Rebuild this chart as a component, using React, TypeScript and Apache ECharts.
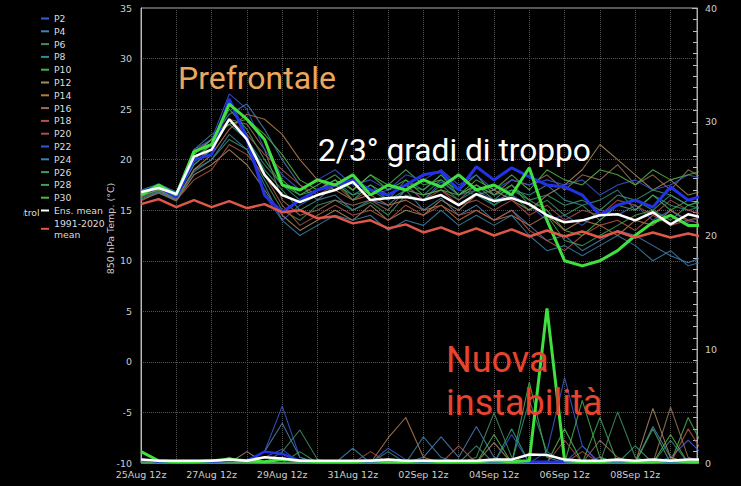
import React, { useEffect, useRef } from "react";
import * as echarts from "echarts";

// forecast hours from 25Aug 12z, every 12 h
const hours = [0, 12, 24, 36, 48, 60, 72, 84, 96, 108, 120, 132, 144, 156, 168, 180, 192, 204, 216, 228, 240, 252, 264, 276, 288, 300, 312, 324, 336, 348, 360, 372, 384];
const xTickHours = [0, 48, 96, 144, 192, 240, 288, 336];
const xTickLabels = ["25Aug 12z", "27Aug 12z", "29Aug 12z", "31Aug 12z", "02Sep 12z", "04Sep 12z", "06Sep 12z", "08Sep 12z"];

const memberNames = ["P2", "P4", "P6", "P8", "P10", "P12", "P14", "P16", "P18", "P20", "P22", "P24", "P26", "P28", "P30"];
const memberColors = ["#3a5ccf", "#4a7fb5", "#3f8f5f", "#2f8f8a", "#45b04f", "#a88a62", "#b87a4a", "#98705a", "#b55545", "#a8504a", "#3a55d5", "#3a80a8", "#3a9a70", "#3fa555", "#55b545"];

// 850 hPa temperature (°C)
const tP2 = [16.9, 17.4, 16.5, 19.5, 21.0, 26.0, 22.5, 16.5, 14.0, 15.5, 16.5, 17.0, 18.0, 16.5, 17.0, 17.5, 16.0, 17.8, 16.5, 17.0, 16.0, 16.5, 15.5, 14.0, 14.5, 13.5, 15.0, 14.5, 15.5, 14.0, 15.0, 13.8, 14.5];
const tP4 = [16.5, 17.2, 16.2, 20.5, 22.0, 24.5, 25.5, 23.0, 20.0, 17.5, 16.0, 16.5, 15.0, 16.0, 15.5, 17.0, 15.0, 16.2, 14.5, 15.5, 14.0, 15.0, 13.5, 12.0, 12.5, 11.0, 12.0, 13.0, 12.5, 11.5, 10.5, 9.8, 10.5];
const tP6 = [16.2, 16.9, 16.0, 19.0, 20.0, 22.0, 21.0, 18.0, 15.0, 14.0, 15.5, 16.0, 15.0, 15.8, 14.5, 16.5, 16.0, 17.5, 16.0, 17.0, 15.5, 16.5, 15.0, 16.0, 14.5, 15.5, 14.0, 15.5, 16.0, 15.0, 16.5, 15.5, 16.0];
const tP8 = [17.0, 17.6, 16.8, 21.0, 22.5, 23.5, 22.0, 19.5, 17.5, 16.0, 17.0, 18.0, 16.5, 17.5, 16.0, 18.0, 17.0, 18.5, 17.0, 16.5, 15.5, 17.0, 16.5, 17.5, 16.0, 15.5, 16.0, 17.0, 15.0, 16.5, 15.5, 15.0, 15.5];
const tP10 = [16.6, 17.3, 16.4, 20.0, 21.5, 25.5, 24.0, 22.0, 18.0, 16.5, 17.5, 18.5, 17.0, 18.5, 17.5, 19.0, 17.5, 18.0, 17.0, 18.5, 16.5, 17.5, 16.0, 15.0, 13.0, 12.5, 14.0, 15.5, 15.0, 16.5, 15.0, 16.0, 15.5];
const tP12 = [16.0, 16.7, 15.9, 18.5, 19.5, 21.0, 19.5, 17.0, 14.5, 13.0, 14.0, 15.0, 14.0, 15.5, 14.0, 15.0, 14.5, 16.0, 15.0, 16.5, 17.0, 16.0, 15.0, 16.5, 17.5, 19.0, 21.5, 20.0, 18.5, 17.0, 18.0, 16.5, 17.0];
const tP14 = [16.4, 17.0, 16.1, 19.0, 20.5, 23.0, 24.5, 24.0, 22.5, 20.0, 18.0, 17.0, 16.0, 16.5, 15.5, 16.0, 15.0, 15.5, 14.0, 15.0, 14.0, 14.5, 13.5, 14.5, 13.0, 14.0, 13.5, 12.5, 14.0, 13.5, 15.0, 14.0, 14.5];
const tP16 = [16.3, 17.1, 16.3, 19.8, 21.0, 24.0, 23.5, 21.0, 16.0, 14.5, 15.0, 16.0, 15.5, 16.0, 15.0, 17.0, 16.5, 17.0, 16.0, 17.5, 16.5, 18.0, 17.5, 18.5, 17.0, 18.5, 18.0, 19.5, 17.5, 18.5, 17.0, 19.0, 18.0];
const tP18 = [15.9, 16.8, 16.0, 18.0, 19.0, 21.5, 20.5, 18.5, 15.5, 13.5, 14.5, 15.5, 14.5, 15.0, 14.0, 15.5, 14.5, 15.5, 14.5, 15.0, 14.0, 15.0, 13.0, 12.0, 11.0, 12.5, 13.5, 14.0, 13.0, 14.5, 13.5, 14.0, 13.5];
const tP20 = [16.7, 17.5, 16.6, 20.8, 22.0, 24.0, 22.5, 20.5, 19.0, 17.5, 16.5, 17.5, 16.0, 17.0, 16.5, 17.5, 16.0, 17.0, 15.5, 16.0, 15.0, 16.0, 14.5, 15.5, 14.0, 15.0, 14.5, 16.0, 15.5, 14.5, 16.0, 15.0, 14.5];
const tP22 = [16.8, 17.6, 16.7, 21.0, 22.0, 26.5, 25.0, 21.0, 18.5, 17.0, 18.0, 19.0, 17.5, 18.0, 17.0, 18.5, 18.0, 19.0, 17.5, 18.5, 17.0, 18.0, 17.5, 18.0, 17.5, 18.0, 16.5, 17.5, 18.0, 17.0, 17.5, 18.5, 18.0];
const tP24 = [16.1, 16.8, 16.0, 18.8, 20.0, 22.5, 21.0, 17.5, 14.0, 12.5, 13.5, 14.5, 14.0, 14.5, 13.0, 14.0, 13.5, 15.0, 13.5, 14.5, 13.5, 14.5, 12.5, 11.0, 11.5, 10.5, 11.5, 12.5, 11.5, 10.0, 11.0, 9.5, 10.0];
const tP26 = [16.6, 17.3, 16.3, 19.5, 21.0, 24.0, 22.0, 19.0, 17.0, 15.0, 16.0, 17.5, 16.5, 17.0, 16.0, 17.0, 16.5, 18.0, 16.5, 17.5, 16.5, 17.0, 16.0, 16.5, 15.5, 16.0, 15.0, 16.5, 16.0, 17.0, 16.5, 15.5, 16.0];
const tP28 = [16.4, 17.0, 16.2, 20.2, 21.5, 25.0, 23.0, 20.0, 17.5, 16.5, 17.0, 18.0, 16.0, 17.5, 16.5, 17.5, 17.0, 18.5, 16.5, 17.5, 16.0, 17.5, 15.5, 14.5, 12.0, 11.5, 12.5, 13.5, 14.5, 15.0, 14.0, 15.5, 15.0];
const tP30 = [16.8, 17.4, 16.5, 20.5, 22.0, 23.5, 24.0, 22.5, 20.5, 18.0, 17.0, 18.0, 17.0, 18.5, 17.0, 18.0, 16.5, 17.0, 16.5, 18.0, 17.0, 18.5, 17.0, 19.0, 18.0, 17.5, 19.0, 18.5, 17.5, 19.0, 18.0, 18.5, 19.0];
const tOper = [16.8, 17.3, 16.3, 20.0, 20.5, 26.0, 22.0, 16.5, 14.8, 16.0, 17.0, 17.5, 18.0, 17.0, 16.5, 17.5, 18.5, 18.8, 17.0, 19.3, 18.0, 19.2, 18.3, 17.5, 17.3, 16.5, 14.5, 15.5, 16.0, 15.3, 17.3, 16.0, 16.5];
const tControl = [16.5, 17.5, 16.5, 20.8, 21.5, 25.5, 24.0, 22.0, 17.5, 17.0, 18.0, 17.5, 18.5, 16.5, 17.5, 17.0, 18.0, 17.3, 18.5, 17.0, 17.5, 16.5, 19.2, 14.0, 10.0, 9.5, 10.0, 11.0, 12.5, 13.8, 14.5, 13.5, 13.5];
const tMean = [16.8, 17.2, 16.6, 20.3, 21.0, 24.0, 22.0, 18.5, 16.5, 15.8, 16.5, 17.0, 17.8, 16.0, 16.2, 16.3, 16.0, 16.5, 15.5, 16.6, 15.9, 16.2, 15.6, 14.5, 13.8, 14.0, 14.5, 14.6, 14.0, 14.8, 13.6, 14.6, 14.2];
const tClim = [15.6, 16.1, 15.3, 16.0, 15.3, 15.9, 15.2, 15.6, 14.8, 15.0, 14.2, 14.4, 13.7, 14.0, 13.2, 13.6, 12.8, 13.3, 12.6, 13.2, 12.5, 13.1, 12.4, 13.0, 12.4, 12.9, 12.3, 12.9, 12.3, 12.8, 12.3, 12.7, 12.3];

// precipitation (mm, right axis)
const pP2 = [0, 0, 0, 0, 0, 0, 0, 1.0, 5.0, 0.5, 0, 0, 0, 0, 1.3, 0.3, 0, 0, 0, 0, 0, 0, 0, 1.0, 7.5, 1.5, 0, 0, 0, 0, 0.5, 2.0, 0.5];
const pP4 = [0.2, 0, 0, 0, 0, 0, 0, 1.0, 3.5, 0.5, 0, 0, 0, 0, 0, 0, 0.5, 2.3, 0.5, 3.2, 0.5, 0, 0, 0, 0, 0, 0.5, 0, 0, 3.2, 0.5, 0, 0];
const pP6 = [0.1, 0, 0, 0, 0, 0, 0, 0, 1.0, 2.9, 0.3, 0, 0, 0, 0, 0, 0, 0, 0, 0.5, 4.4, 0.5, 0, 0, 0, 0, 0, 4.5, 0.5, 0, 0, 0, 0];
const pP8 = [0, 0, 0, 0, 0.2, 0, 0, 0, 0, 0, 0, 0, 0, 0, 1.0, 0, 0, 0, 0, 1.5, 0, 0, 5.5, 1.0, 0, 0, 0, 0, 0, 0, 2.0, 0, 0];
const pP10 = [0.3, 0, 0, 0, 0, 0.5, 0, 0, 0, 0, 0, 0, 0, 0, 0, 0, 0, 0, 0, 0, 0, 0, 7.1, 0.5, 0, 5.5, 0.5, 0, 0, 0, 0, 4.0, 1.0];
const pP12 = [0, 0, 0, 0, 0, 0, 1.0, 0, 0, 0, 0, 0, 0, 0, 0, 0, 0, 0, 0, 0, 1.8, 0, 0, 0, 0, 0, 0, 0, 0, 4.8, 0.5, 0, 0];
const pP14 = [0, 0, 0, 0, 0, 0, 0, 0, 0.5, 0, 0, 0, 0, 0, 2.2, 4.0, 0.5, 0, 0, 0, 0, 0, 0, 0, 0, 0, 0, 0, 0, 0, 0, 0, 0];
const pP16 = [0, 0, 0, 0, 0, 0, 0, 0, 0, 0, 0, 0, 0, 0, 0, 0, 0, 0, 0, 0, 0, 0, 0, 0, 0, 0, 2.0, 0.5, 0, 0, 4.9, 0.5, 0];
const pP18 = [0, 0, 0, 0, 0, 0, 0, 0, 0, 0, 0, 0, 0, 0, 0, 0, 0, 0, 1.5, 0, 0, 0, 0, 0, 0, 1.0, 0, 0, 0, 0, 0, 3.0, 0.5];
const pP20 = [0, 0, 0, 0, 0, 0, 0, 0, 0, 0, 0, 0, 0, 1.0, 0, 0, 0, 0, 0, 0, 0, 0, 0, 0, 2.0, 0, 0, 0, 0, 0, 0, 0, 0];
const pP22 = [0, 0, 0, 0, 0, 0, 0, 0.5, 1.2, 0, 0, 0, 0, 0, 0, 0, 0, 0, 0, 0, 0, 2.5, 0, 0, 0, 1.5, 0, 0, 0, 0, 0, 0, 0];
const pP24 = [0, 0, 0, 0, 0, 0, 0, 0, 0, 0, 0, 0, 1.3, 0, 0, 0, 2.3, 0.5, 0, 0, 0, 0, 0, 0, 0, 0, 0, 0, 0, 0, 0, 0, 0];
const pP26 = [0, 0, 0, 0, 0, 0, 0, 0, 0, 0, 0, 0, 0, 0, 0, 0, 0, 0, 0, 0, 0, 3.0, 0, 0, 0, 0, 0, 0, 1.5, 0, 0, 0, 0];
const pP28 = [0.2, 0, 0, 0, 0, 0, 0, 0, 0, 1.0, 0, 0, 0, 0, 0, 0, 0, 0, 0, 0, 0, 0, 0, 0, 0, 0, 4.0, 0, 0, 3.0, 0, 0, 0];
const pP30 = [0, 0, 0, 0, 0, 0, 0, 0, 0, 0, 0, 0, 0, 0, 0, 0, 0, 0, 0, 0, 2.5, 0, 0, 0, 3.0, 0, 0, 0, 0, 0, 2.5, 0, 0];
const pOper = [0.3, 0.1, 0.1, 0.1, 0.1, 0.2, 0.2, 1.0, 0.8, 0.2, 0.1, 0.1, 0.1, 0.1, 0.1, 0.1, 0.1, 0.1, 0.1, 0.1, 0.1, 0.1, 0.1, 0.1, 0.1, 0.1, 0.1, 0.1, 0.1, 0.1, 0.1, 0.1, 0.1];
const pControl = [1.0, 0.2, 0.1, 0.1, 0.2, 0.3, 0.2, 0.1, 0.3, 0.2, 0.1, 0.1, 0.1, 0.2, 0.1, 0.1, 0.2, 0.1, 0.1, 0.1, 0.2, 0.1, 0.2, 13.6, 0.2, 0.1, 0.1, 0.2, 0.1, 0.1, 0.2, 0.1, 0.1];
const pMean = [0.3, 0.2, 0.2, 0.2, 0.2, 0.3, 0.2, 0.5, 0.4, 0.2, 0.2, 0.2, 0.2, 0.2, 0.3, 0.2, 0.2, 0.2, 0.2, 0.2, 0.3, 0.3, 0.75, 0.7, 0.3, 0.2, 0.2, 0.3, 0.2, 0.3, 0.2, 0.3, 0.3];

const memberTemps = [tP2, tP4, tP6, tP8, tP10, tP12, tP14, tP16, tP18, tP20, tP22, tP24, tP26, tP28, tP30];
const memberPrecip = [pP2, pP4, pP6, pP8, pP10, pP12, pP14, pP16, pP18, pP20, pP22, pP24, pP26, pP28, pP30];

const MEAN_NAME = "Ens. mean";
const CLIM_NAME = "1991-2020\nmean";

function pts(values: number[]) {
  return hours.map((h, i) => [h, values[i]]);
}

function lineSeries(name: string, values: number[], color: string, width: number, axis: number, z: number, opacity = 1) {
  return {
    type: "line",
    name,
    yAxisIndex: axis,
    data: pts(values),
    symbol: "none",
    z,
    itemStyle: { color },
    lineStyle: { color, width, opacity },
    emphasis: { disabled: true },
    silent: true,
  };
}

export default function App() {
  const ref = useRef<HTMLDivElement>(null);
  useEffect(() => {
    document.body.style.margin = "0";
    document.body.style.background = "#000";
    const chart = echarts.init(ref.current!, undefined, { renderer: "svg" });
    const series: any[] = [];
    memberNames.forEach((n, k) => {
      series.push(lineSeries(n, memberTemps[k], memberColors[k], 1.1, 0, 2, 0.85));
      series.push(lineSeries(n, memberPrecip[k], memberColors[k], 1.1, 1, 2, 0.85));
    });
    series.push(lineSeries("Oper", tOper, "#2233e6", 3, 0, 3));
    series.push(lineSeries("Oper", pOper, "#2233e6", 2.5, 1, 3));
    series.push(lineSeries("Control", tControl, "#3fe03f", 3, 0, 4));
    series.push(lineSeries("Control", pControl, "#3fe03f", 3, 1, 4));
    series.push(lineSeries(CLIM_NAME, tClim, "#e0574a", 2.5, 0, 5));
    series.push(lineSeries(MEAN_NAME, tMean, "#ffffff", 2.5, 0, 6));
    series.push(lineSeries(MEAN_NAME, pMean, "#ffffff", 2.5, 1, 6));

    const legendText = { color: "#ddd", fontSize: 9.3, lineHeight: 11, fontFamily: "DejaVu Sans" };
    const option: any = {
      animation: false,
      backgroundColor: "#000",
      textStyle: { fontFamily: "DejaVu Sans" },
      grid: { left: 141, right: 44, top: 8, bottom: 23, show: true, borderColor: "#aaa", borderWidth: 1, backgroundColor: "transparent" },
      legend: [
        {
          orient: "vertical",
          left: 36,
          top: 8,
          icon: "rect",
          itemWidth: 8,
          itemHeight: 2,
          itemGap: 1.8,
          selectedMode: false,
          textStyle: legendText,
          data: [...memberNames, MEAN_NAME, CLIM_NAME],
        },
        {
          orient: "vertical",
          left: -12,
          top: 202,
          icon: "rect",
          itemWidth: 8,
          itemHeight: 2,
          selectedMode: false,
          textStyle: legendText,
          data: ["Control"],
        },
      ],
      xAxis: {
        type: "value",
        min: 0,
        max: 378,
        interval: 24,
        axisLine: { show: false },
        axisTick: { show: false },
        axisLabel: {
          color: "#ccc",
          fontSize: 9.5,
          margin: 6,
          formatter: (v: number) => {
            const k = xTickHours.indexOf(v);
            return k >= 0 ? xTickLabels[k] : "";
          },
        },
        splitLine: { show: true, lineStyle: { color: "#555", type: "dotted" } },
      },
      yAxis: [
        {
          type: "value",
          min: -10,
          max: 35,
          interval: 5,
          name: "850 hPa Temp. (°C)",
          nameLocation: "middle",
          nameGap: 26,
          nameRotate: 90,
          nameMoveOverlap: false,
          nameTextStyle: { color: "#ccc", fontSize: 9.5, padding: [0, 0, 0, 14] },
          axisLine: { show: true, lineStyle: { color: "#bbb" } },
          axisTick: { show: false },
          axisLabel: { color: "#ccc", fontSize: 9.5, margin: 9 },
          splitLine: { show: true, lineStyle: { color: "#555", type: "dotted" } },
        },
        {
          type: "value",
          min: 0,
          max: 40,
          interval: 10,
          position: "right",
          axisLine: { show: true, lineStyle: { color: "#aaa" } },
          axisTick: { show: true, inside: true, length: 5, lineStyle: { color: "#bbb" } },
          minorTick: { show: true, splitNumber: 10, length: 4, lineStyle: { color: "#bbb" } },
          axisLabel: { color: "#ccc", fontSize: 9.5, margin: 8 },
          splitLine: { show: false },
        },
      ],
      graphic: [
        { type: "rect", z: 100, shape: { x: 0, y: 195, width: 23.5, height: 30 }, style: { fill: "#000" } },
        { type: "text", x: 178, y: 78, z: 100, style: { text: "Prefrontale", fill: "#eaa75e", fontSize: 32, fontFamily: "Roboto", verticalAlign: "middle", align: "left" } },
        { type: "text", x: 318, y: 150, z: 100, style: { text: "2/3° gradi di troppo", fill: "#ffffff", fontSize: 31.7, fontFamily: "Roboto", verticalAlign: "middle", align: "left" } },
        { type: "text", x: 446, y: 360, z: 100, style: { text: "Nuova", fill: "#e8432e", fontSize: 36, fontFamily: "Roboto", verticalAlign: "middle", align: "left" } },
        { type: "text", x: 446, y: 403, z: 100, style: { text: "instabilità", fill: "#e8432e", fontSize: 36, fontFamily: "Roboto", verticalAlign: "middle", align: "left" } },
      ],
      series,
    };
    chart.setOption(option);
    return () => chart.dispose();
  }, []);
  return (
    <div
      ref={ref}
      style={{ position: "fixed", left: 0, top: 0, width: 741, height: 486, background: "#000" }}
    />
  );
}
